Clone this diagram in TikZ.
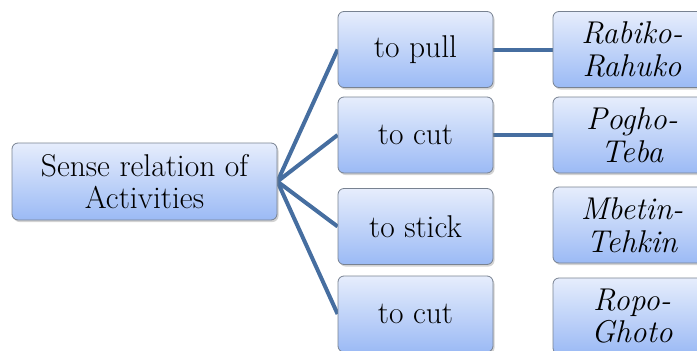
\documentclass[tikz,border=0pt]{standalone}
\usetikzlibrary{shadows,backgrounds}
\definecolor{lineblue}{RGB}{70,110,160}
\definecolor{boxtop}{RGB}{230,237,252}
\definecolor{boxbot}{RGB}{155,186,245}
\definecolor{boxedge}{RGB}{120,130,145}
\begin{document}
\begin{tikzpicture}[x=1pt,y=-1pt,
  box/.style={draw=boxedge, line width=0.8pt, rounded corners=6pt,
    top color=boxtop, bottom color=boxbot,
    drop shadow={shadow xshift=1.5pt, shadow yshift=-2pt, opacity=0.35},
    align=center, inner sep=0pt, font=\fontsize{31.5}{32.5}\selectfont},
  midbox/.style={box, minimum width=155pt, minimum height=76pt},
  rightbox/.style={box, minimum width=158pt, minimum height=76pt, font=\fontsize{31.5}{32.5}\selectfont\itshape},
  conn/.style={draw=lineblue, line width=4pt}]
\useasboundingbox (0,0) rectangle (697,351);
\clip (0,0) rectangle (697,351);
\node[box, minimum width=265pt, minimum height=77pt] (root) at (144.5,181.5) {Sense relation of\\Activities};
\node[midbox] (m1) at (415.5,49.5) {to pull};
\node[midbox] (m2) at (415.5,135) {to cut};
\node[midbox] (m3) at (415.5,226.5) {to stick};
\node[midbox] (m4) at (415.5,314) {to cut};
\node[rightbox] (r1) at (632,49.5) {Rabiko-\\Rahuko};
\node[rightbox] (r2) at (632,135) {Pogho-\\Teba};
\node[rightbox] (r3) at (632,225) {Mbetin-\\Tehkin};
\node[rightbox] (r4) at (632,316) {Ropo-\\Ghoto};
\begin{scope}[on background layer]
\draw[conn] (root.east) -- (m1.west);
\draw[conn] (root.east) -- (m2.west);
\draw[conn] (root.east) -- (m3.west);
\draw[conn] (root.east) -- (m4.west);
\draw[conn] (m1.east) -- (r1.west);
\draw[conn] (m2.east) -- (r2.west);
\end{scope}
\end{tikzpicture}
\end{document}
